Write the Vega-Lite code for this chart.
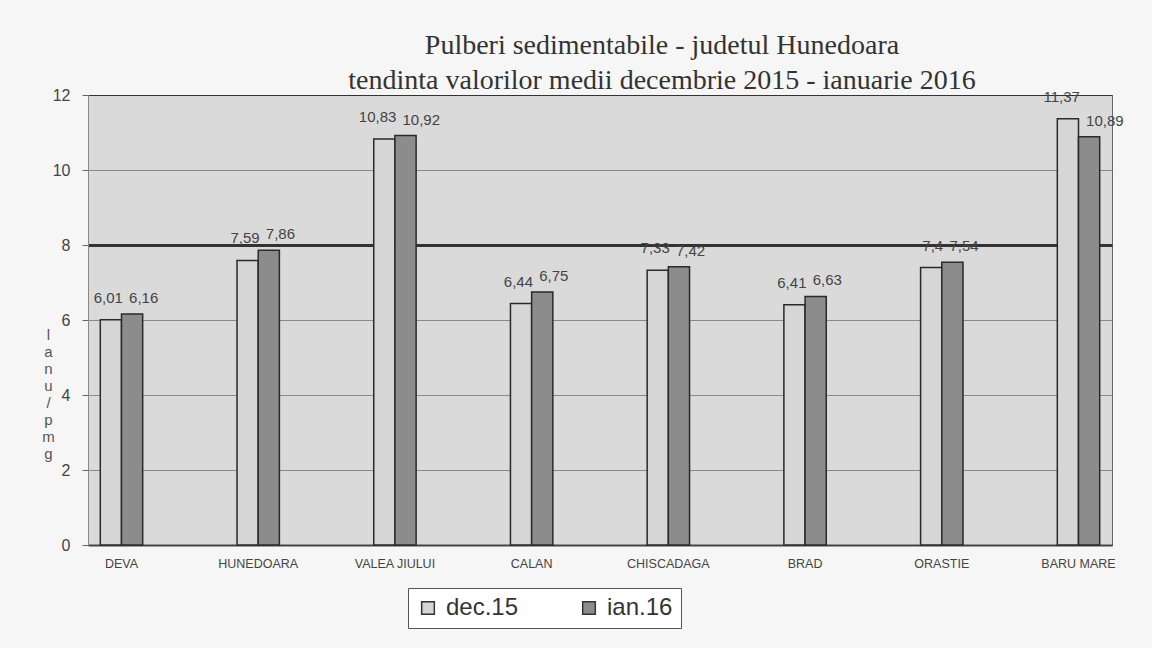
{
  "$schema": "https://vega.github.io/schema/vega-lite/v6.json",
  "autosize": {"type": "none"},
  "width": 1024,
  "height": 450,
  "padding": {"left": 88, "top": 95, "right": 40, "bottom": 103},
  "background": "#f6f6f6",
  "title": {
    "text": ["Pulberi sedimentabile - judetul Hunedoara", "tendinta valorilor medii decembrie 2015 - ianuarie 2016"],
    "font": "Liberation Serif",
    "fontSize": 28,
    "fontWeight": "normal",
    "color": "#333",
    "lineHeight": 35,
    "anchor": "middle",
    "dx": 62,
    "offset": -8
  },
  "data": {
    "values": [
      {"site": "DEVA", "series": "dec.15", "value": 6.01, "label": "6,01"},
      {"site": "DEVA", "series": "ian.16", "value": 6.16, "label": "6,16"},
      {"site": "HUNEDOARA", "series": "dec.15", "value": 7.59, "label": "7,59"},
      {"site": "HUNEDOARA", "series": "ian.16", "value": 7.86, "label": "7,86"},
      {"site": "VALEA JIULUI", "series": "dec.15", "value": 10.83, "label": "10,83"},
      {"site": "VALEA JIULUI", "series": "ian.16", "value": 10.92, "label": "10,92"},
      {"site": "CALAN", "series": "dec.15", "value": 6.44, "label": "6,44"},
      {"site": "CALAN", "series": "ian.16", "value": 6.75, "label": "6,75"},
      {"site": "CHISCADAGA", "series": "dec.15", "value": 7.33, "label": "7,33"},
      {"site": "CHISCADAGA", "series": "ian.16", "value": 7.42, "label": "7,42"},
      {"site": "BRAD", "series": "dec.15", "value": 6.41, "label": "6,41"},
      {"site": "BRAD", "series": "ian.16", "value": 6.63, "label": "6,63"},
      {"site": "ORASTIE", "series": "dec.15", "value": 7.4, "label": "7,4"},
      {"site": "ORASTIE", "series": "ian.16", "value": 7.54, "label": "7,54"},
      {"site": "BARU MARE", "series": "dec.15", "value": 11.37, "label": "11,37"},
      {"site": "BARU MARE", "series": "ian.16", "value": 10.89, "label": "10,89"}
    ]
  },
  "encoding": {
    "x": {
      "field": "site",
      "type": "nominal",
      "sort": null,
      "scale": {"paddingInner": 0.69, "paddingOuter": 0.09},
      "axis": {
        "title": null,
        "labelAngle": 0,
        "labelFont": "Liberation Sans",
        "labelFontSize": 12.5,
        "labelColor": "#444",
        "labelPadding": 12,
        "ticks": false,
        "domainColor": "#444",
        "domainWidth": 2
      }
    },
    "xOffset": {"field": "series", "type": "nominal", "sort": ["dec.15", "ian.16"]},
    "y": {
      "field": "value",
      "type": "quantitative",
      "scale": {"domain": [0, 12], "nice": false},
      "axis": {
        "values": [0, 2, 4, 6, 8, 10, 12],
        "title": ["l", "a", "n", "u", "/", "p", "m", "g"],
        "titleAngle": 0,
        "titleX": -40,
        "titleY": 232,
        "titleAlign": "center",
        "titleBaseline": "top",
        "titleFont": "Liberation Sans",
        "titleFontSize": 15,
        "titleFontWeight": "normal",
        "titleLineHeight": 17,
        "titleColor": "#555",
        "labelFont": "Liberation Sans",
        "labelFontSize": 16,
        "labelColor": "#444",
        "labelPadding": 12,
        "tickSize": 6,
        "tickColor": "#666",
        "domainColor": "#888",
        "grid": true,
        "gridColor": {"condition": {"test": "datum.value === 8 || datum.value === 12 || datum.value === 0", "value": "#333"}, "value": "#8a8a8a"},
        "gridWidth": {"condition": {"test": "datum.value === 8", "value": 3}, "value": 1}
      }
    }
  },
  "layer": [
    {
      "mark": {"type": "bar", "stroke": "#2a2a2a", "strokeWidth": 1.5},
      "encoding": {
        "color": {
          "field": "series",
          "type": "nominal",
          "sort": ["dec.15", "ian.16"],
          "scale": {"domain": ["dec.15", "ian.16"], "range": ["#d6d6d6", "#8c8c8c"]},
          "legend": {
            "title": null,
            "orient": "none",
            "legendX": 320,
            "legendY": 493,
            "direction": "horizontal",
            "symbolType": "square",
            "symbolSize": 160,
            "symbolStrokeColor": "#333",
            "symbolStrokeWidth": 1.5,
            "labelFont": "Liberation Sans",
            "labelFontSize": 24,
            "labelColor": "#333",
            "labelOffset": 6,
            "columnPadding": 58,
            "padding": 8,
            "strokeColor": "#555",
            "fillColor": "#ffffff"
          }
        }
      }
    },
    {
      "transform": [{"filter": "datum.series === 'dec.15'"}],
      "mark": {"type": "text", "baseline": "bottom", "align": "right", "dx": 12, "dy": -14, "font": "Liberation Sans", "fontSize": 15, "color": "#444"},
      "encoding": {"text": {"field": "label"}}
    },
    {
      "transform": [{"filter": "datum.series === 'ian.16'"}],
      "mark": {"type": "text", "baseline": "bottom", "align": "left", "dx": -3, "dy": -8, "font": "Liberation Sans", "fontSize": 15, "color": "#444"},
      "encoding": {"text": {"field": "label"}}
    }
  ],
  "config": {
    "view": {"fill": "#dadada", "stroke": "#666"}
  }
}
